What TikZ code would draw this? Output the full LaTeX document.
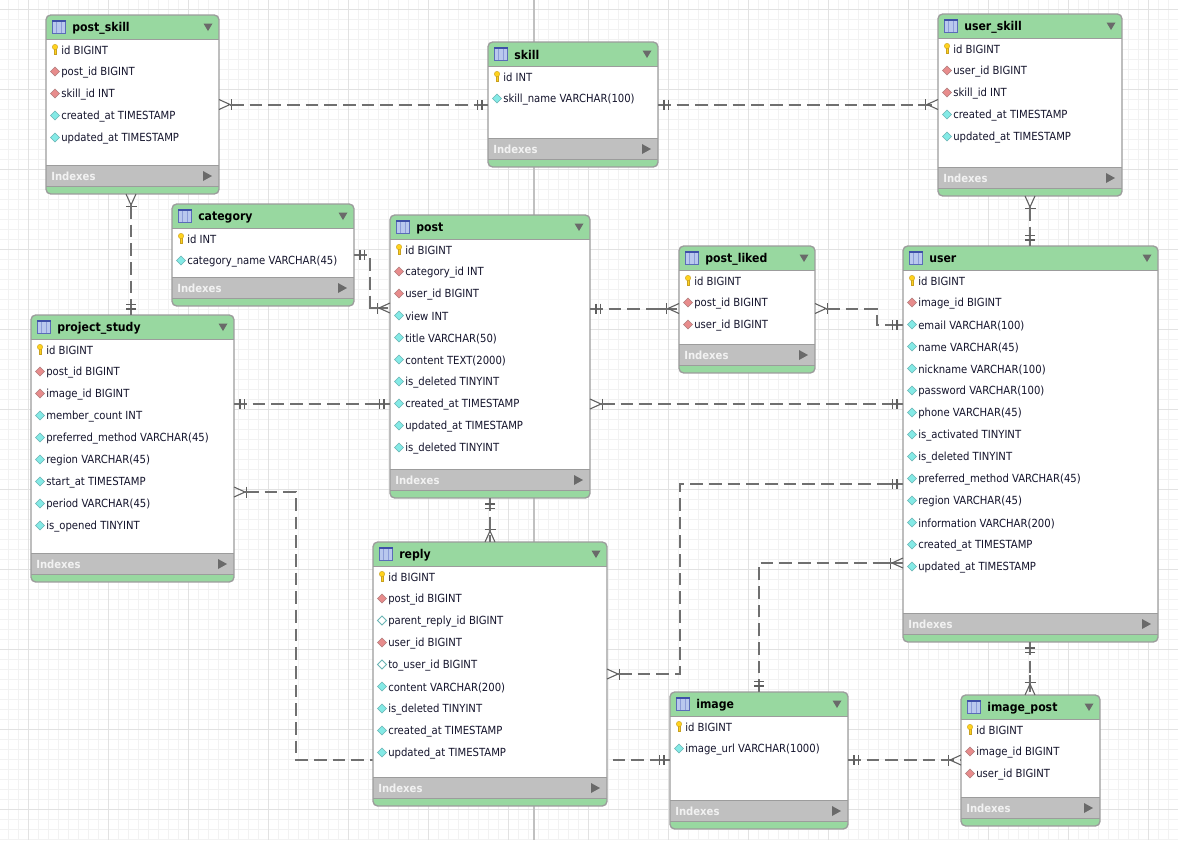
\documentclass[tikz,border=0pt]{standalone}
\usepackage{fontspec}
\setmainfont{DejaVu Sans Condensed}
\usetikzlibrary{calc}
\definecolor{hdr}{HTML}{98D8A0}
\definecolor{edge}{HTML}{9C9C9C}
\definecolor{band}{HTML}{C0C0C0}
\definecolor{conn}{HTML}{707070}
\definecolor{txt}{HTML}{14142C}
\definecolor{gmin}{HTML}{F2F2F2}
\definecolor{gmaj}{HTML}{E2E2E2}
\definecolor{cyanfill}{HTML}{84EAE6}
\definecolor{cyanline}{HTML}{6AB4B4}
\definecolor{redfill}{HTML}{E88C8C}
\definecolor{redline}{HTML}{B07C7C}
\definecolor{keyfill}{HTML}{FFD21E}
\definecolor{keyline}{HTML}{C8A020}
\definecolor{iconfill}{HTML}{B9C8EE}
\definecolor{iconline}{HTML}{5A6CB8}
\definecolor{icontop}{HTML}{3E50A8}
\definecolor{iconcol}{HTML}{8C9CD8}
\definecolor{tri}{HTML}{6A6A6A}
\tikzset{
  tablebody/.style={rectangle,rounded corners=3.5pt,fill=white,inner sep=0pt,outer sep=0pt},
  rowtext/.style={anchor=west,inner sep=0pt,text=txt,font=\fontsize{8.4pt}{10pt}\selectfont},
  titletext/.style={anchor=west,inner sep=0pt,text=black,font=\fontsize{9.1pt}{11pt}\selectfont\bfseries},
  idxtext/.style={anchor=west,inner sep=0pt,text=white!95!black,font=\fontsize{8.4pt}{10pt}\selectfont\bfseries},
  relation/.style={draw=conn,line width=1.5pt,dash pattern=on 9.5pt off 4.5pt},
  cs/.style={shorten <=9pt},
  markline/.style={draw=conn!85!black,line width=0.8pt},
  stub/.style={draw=conn,line width=1.5pt},
  pics/crowmark/.style={code={
    \draw[markline] (0,-5)--(11,0)--(0,5);
    \draw[markline,line width=1pt] (12.5,-5.5)--(12.5,5.5);
    \draw[stub] (11,0)--(20,0);}},
  pics/onemark/.style={code={
    \draw[stub] (0,0)--(13,0);
    \draw[markline,line width=1pt] (6,-5)--(6,5);
    \draw[markline,line width=1pt] (10.5,-5)--(10.5,5);}},
}
\newcommand\rkk[2]{%
  \fill[keyfill,draw=keyline,line width=.3pt]
    (#1-1.2,#2-1) -- (#1-1.2,#2+4.5) -- (#1+1.2,#2+4.5) -- (#1+1.2,#2-1) -- cycle;
  \fill[keyfill,draw=keyline,line width=.3pt] (#1,#2-2.5) circle[radius=2.7];}
\newcommand\rkf[2]{%
  \fill[fill=redfill,draw=redline,line width=.4pt]
    (#1-4.5,#2)--(#1,#2-4.5)--(#1+4.5,#2)--(#1,#2+4.5)--cycle;}
\newcommand\rkn[2]{%
  \fill[fill=cyanfill,draw=cyanline,line width=.4pt]
    (#1-4.5,#2)--(#1,#2-4.5)--(#1+4.5,#2)--(#1,#2+4.5)--cycle;}
\newcommand\rko[2]{%
  \fill[fill=white,draw=cyanline,line width=.6pt]
    (#1-4.5,#2)--(#1,#2-4.5)--(#1+4.5,#2)--(#1,#2+4.5)--cycle;}
% name, x0, x1, y0, y1, title, rows
\newcommand\ertable[7]{%
  \pgfmathsetmacro\tw{(#3-#2)*0.75}%
  \pgfmathsetmacro\th{(#5-#4)*0.75}%
  \pgfmathsetmacro\tcx{(#2+#3)/2}%
  \pgfmathsetmacro\tcy{(#4+#5)/2}%
  \node[tablebody,minimum width=\tw pt,minimum height=\th pt] (#1) at (\tcx,\tcy) {};
  \begin{scope}
    \clip[rounded corners=3.5pt] (#2,#4) rectangle (#3,#5);
    \fill[hdr] (#2,#4) rectangle (#3,#4+24.5);
    \fill[hdr] (#2,#5-9) rectangle (#3,#5);
    \fill[band] (#2,#5-29) rectangle (#3,#5-8);
    \draw[edge,line width=.8pt] (#2,#4+24.5) -- (#3,#4+24.5);
    \draw[edge,line width=.6pt] (#2,#5-29) -- (#3,#5-29);
    \draw[edge,line width=.6pt] (#2,#5-8) -- (#3,#5-8);
  \end{scope}
  \draw[edge,line width=1pt,rounded corners=3.5pt] (#2,#4) rectangle (#3,#5);
  \draw[iconline,line width=.7pt,fill=iconfill] (#2+6.5,#4+5.5) rectangle (#2+19.5,#4+18.5);
  \fill[icontop] (#2+6,#4+5) rectangle (#2+20,#4+7);
  \draw[iconcol,line width=.6pt] (#2+10.8,#4+7)--(#2+10.8,#4+18) (#2+15.2,#4+7)--(#2+15.2,#4+18);
  \node[titletext] (#1-title) at (#2+26,#4+13.2) {#6};
  \fill[tri] (#3-15.5,#4+8.5)--(#3-6.5,#4+8.5)--(#3-11,#4+16)--cycle;
  \foreach \kind/\txtval [count=\ri from 0] in {#7}{
    \csname rk\kind\endcsname{#2+9}{#4+34.5+22*\ri}
    \node[rowtext] (#1-r\ri) at (#2+15,#4+35.8+22*\ri) {\txtval};
  }
  \node[idxtext] (#1-idx) at (#2+5,#5-18) {Indexes};
  \fill[tri] (#3-16,#5-23)--(#3-7,#5-18)--(#3-16,#5-13)--cycle;
}
\begin{document}
\begin{tikzpicture}[x=0.75pt,y=-0.75pt]
\useasboundingbox (0,0) rectangle (1178,840);
\fill[white] (0,0) rectangle (1178,840);
\begin{scope}
\clip (0,0) rectangle (1178,840);
\foreach \k in {0,...,117} \draw[gmin,line width=.75pt] (8.3+10*\k,0) -- (8.3+10*\k,840);
\foreach \k in {0,...,83} \draw[gmin,line width=.75pt] (0,9.3+10*\k) -- (1178,9.3+10*\k);
\foreach \k in {0,...,14} \draw[gmaj,line width=.75pt] (28.3+80*\k,0) -- (28.3+80*\k,840);
\foreach \k in {0,...,10} \draw[gmaj,line width=.75pt] (0,9.3+80*\k) -- (1178,9.3+80*\k);
\draw[band,line width=1.3pt] (533.8,0) -- (533.8,840);
\end{scope}

\ertable{pskill}{46}{219}{15}{194}{post\_skill}{k/id BIGINT,f/post\_id BIGINT,f/skill\_id INT,n/created\_at TIMESTAMP,n/updated\_at TIMESTAMP}
\ertable{skill}{488}{658}{42}{167}{skill}{k/id INT,n/skill\_name VARCHAR(100)}
\ertable{uskill}{938}{1122}{14}{196}{user\_skill}{k/id BIGINT,f/user\_id BIGINT,f/skill\_id INT,n/created\_at TIMESTAMP,n/updated\_at TIMESTAMP}
\ertable{category}{172}{354}{204}{306}{category}{k/id INT,n/category\_name VARCHAR(45)}
\ertable{post}{390}{590}{215}{498}{post}{k/id BIGINT,f/category\_id INT,f/user\_id BIGINT,n/view INT,n/title VARCHAR(50),n/content TEXT(2000),n/is\_deleted TINYINT,n/created\_at TIMESTAMP,n/updated\_at TIMESTAMP,n/is\_deleted TINYINT}
\ertable{pliked}{679}{815}{246}{373}{post\_liked}{k/id BIGINT,f/post\_id BIGINT,f/user\_id BIGINT}
\ertable{user}{903}{1158}{246}{642}{user}{k/id BIGINT,f/image\_id BIGINT,n/email VARCHAR(100),n/name VARCHAR(45),n/nickname VARCHAR(100),n/password VARCHAR(100),n/phone VARCHAR(45),n/is\_activated TINYINT,n/is\_deleted TINYINT,n/preferred\_method VARCHAR(45),n/region VARCHAR(45),n/information VARCHAR(200),n/created\_at TIMESTAMP,n/updated\_at TIMESTAMP}
\ertable{pstudy}{31}{234}{315}{582}{project\_study}{k/id BIGINT,f/post\_id BIGINT,f/image\_id BIGINT,n/member\_count INT,n/preferred\_method VARCHAR(45),n/region VARCHAR(45),n/start\_at TIMESTAMP,n/period VARCHAR(45),n/is\_opened TINYINT}
\ertable{image}{670}{848}{692}{829}{image}{k/id BIGINT,n/image\_url VARCHAR(1000)}
\ertable{ipost}{961}{1100}{695}{826}{image\_post}{k/id BIGINT,f/image\_id BIGINT,f/user\_id BIGINT}

% the connector that runs behind reply
\draw[relation,cs] (pstudy.east |- 0,492) -- (296,492) -- (296,760) -- (image.west |- 0,760);
\pic at (pstudy.east |- 0,492) {crowmark};
\pic[rotate=180] at (image.west |- 0,760) {onemark};

\ertable{reply}{373}{607}{542}{806}{reply}{k/id BIGINT,f/post\_id BIGINT,o/parent\_reply\_id BIGINT,f/user\_id BIGINT,o/to\_user\_id BIGINT,n/content VARCHAR(200),n/is\_deleted TINYINT,n/created\_at TIMESTAMP,n/updated\_at TIMESTAMP}

% connectors
\draw[relation,cs] (pskill.east |- 0,104.5) -- (skill.west |- 0,104.5);
\pic at (pskill.east |- 0,104.5) {crowmark};
\pic[rotate=180] at (skill.west |- 0,104.5) {onemark};

\draw[relation] (skill.east |- 0,104.5) -- (uskill.west |- 0,104.5);
\pic at (skill.east |- 0,104.5) {onemark};
\pic[rotate=180] at (uskill.west |- 0,104.5) {crowmark};

\draw[relation,cs] (pskill.south -| 131,0) -- (pstudy.north -| 131,0);
\pic[rotate=-90] at (pskill.south -| 131,0) {crowmark};
\pic[rotate=90] at (pstudy.north -| 131,0) {onemark};

\draw[relation,cs] (uskill.south -| 1030,0) -- (user.north -| 1030,0);
\pic[rotate=-90] at (uskill.south -| 1030,0) {crowmark};
\pic[rotate=90] at (user.north -| 1030,0) {onemark};

\draw[relation] (category.east |- 0,255) -- (369.5,255) -- (369.5,308) -- (post.west |- 0,308);
\pic at (category.east |- 0,255) {onemark};
\pic[rotate=180] at (post.west |- 0,308) {crowmark};

\draw[relation] (post.east |- 0,308.5) -- (pliked.west |- 0,308.5);
\pic at (post.east |- 0,308.5) {onemark};
\pic[rotate=180] at (pliked.west |- 0,308.5) {crowmark};

\draw[relation,cs] (pliked.east |- 0,308.5) -- (876.7,308.5) -- (876.7,325) -- (user.west |- 0,325);
\pic at (pliked.east |- 0,308.5) {crowmark};
\pic[rotate=180] at (user.west |- 0,325) {onemark};

\draw[relation] (pstudy.east |- 0,404) -- (post.west |- 0,404);
\pic at (pstudy.east |- 0,404) {onemark};
\pic[rotate=180] at (post.west |- 0,404) {onemark};

\draw[relation,cs] (post.east |- 0,404) -- (user.west |- 0,404);
\pic at (post.east |- 0,404) {crowmark};
\pic[rotate=180] at (user.west |- 0,404) {onemark};

\draw[relation] (post.south -| 490,0) -- (reply.north -| 490,0);
\pic[rotate=-90] at (post.south -| 490,0) {onemark};
\pic[rotate=90] at (reply.north -| 490,0) {crowmark};

\draw[relation,cs] (reply.east |- 0,674) -- (679.5,674) -- (679.5,484) -- (user.west |- 0,484);
\pic at (reply.east |- 0,674) {crowmark};
\pic[rotate=180] at (user.west |- 0,484) {onemark};

\draw[relation] (image.north -| 759,0) -- (759,563) -- (user.west |- 0,563);
\pic[rotate=90] at (image.north -| 759,0) {onemark};
\pic[rotate=180] at (user.west |- 0,563) {crowmark};

\draw[relation] (image.east |- 0,760) -- (ipost.west |- 0,760);
\pic at (image.east |- 0,760) {onemark};
\pic[rotate=180] at (ipost.west |- 0,760) {crowmark};

\draw[relation] (user.south -| 1030,0) -- (ipost.north -| 1030,0);
\pic[rotate=-90] at (user.south -| 1030,0) {onemark};
\pic[rotate=90] at (ipost.north -| 1030,0) {crowmark};
\end{tikzpicture}
\end{document}
